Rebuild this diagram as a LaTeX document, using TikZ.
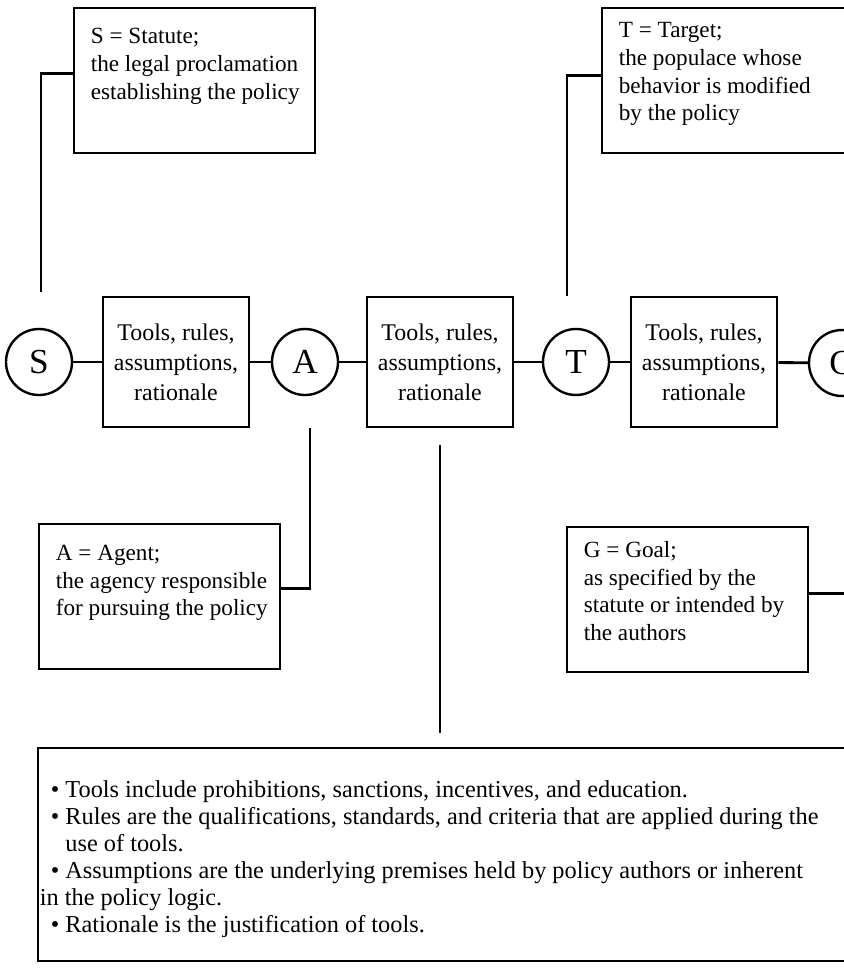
\documentclass[tikz,border=0pt]{standalone}
\usepackage{fontspec}
\setmainfont{Liberation Serif}
\usetikzlibrary{calc}
\newcommand{\notetext}[4]{\parbox[t][#2][t]{#1}{\vspace{#3}\begin{tabular}[t]{@{}l@{}}#4\end{tabular}}}

\begin{document}
\begin{tikzpicture}[x=0.25mm,y=-0.25mm,
  stage/.style={draw,circle,line width=1.7pt,minimum size=16.5mm,inner sep=0pt,font=\fontsize{25}{28}\selectfont},
  tool/.style={draw,line width=2pt,minimum width=36.5mm,minimum height=32.5mm,align=center,font=\fontsize{17}{21.3}\selectfont},
  note/.style={draw,line width=1.2pt,inner xsep=4.25mm,inner ysep=0pt,anchor=north west,font=\fontsize{16.5}{19.6}\selectfont},
  link/.style={line width=2pt}]
\useasboundingbox (0,0) rectangle (844,971);
\clip (0,0) rectangle (844,971);
% the chain
\node[stage] (S) at (39,362) {S};
\node[tool] (b1) at (176,362) {Tools, rules,\\assumptions,\\rationale};
\node[stage] (A) at (305,362) {A};
\node[tool] (b2) at (440,362) {Tools, rules,\\assumptions,\\rationale};
\node[stage] (T) at (576,362) {T};
\node[tool] (b3) at (704,362) {Tools, rules,\\assumptions,\\rationale};
\node[stage] (G) at (842,363) {G};
\draw[link] (S) -- (b1);
\draw[link] (b1) -- (A);
\draw[link] (A) -- (b2);
\draw[link] (b2) -- (T);
\draw[link] (T) -- (b3);
\draw[link] (b3) -- (G);
% notes
\node[note] (sbox) at (73,7) {\notetext{51.75mm}{36.25mm}{4.2mm}{S = Statute;\\the legal proclamation\\establishing the policy}};
\node[note] (tbox) at (601,7) {\notetext{56.75mm}{36.25mm}{2.7mm}{T = Target;\\the populace whose\\behavior is modified\\by the policy}};
\node[note] (abox) at (38,523) {\notetext{51.75mm}{36.25mm}{4.4mm}{A = Agent;\\the agency responsible\\for pursuing the policy}};
\node[note] (gbox) at (566,526) {\notetext{51.75mm}{36.25mm}{2.9mm}{G = Goal;\\as specified by the\\statute or intended by\\the authors}};
\draw[link] ([yshift=1.75mm]sbox.west) -| ([shift={(2,-36)}]S.north);
\draw[link] ([yshift=1.125mm]tbox.west) -| ([shift={(-9,-32)}]T.north);
\draw[link] ([yshift=1.875mm]abox.east) -| ([shift={(5,32)}]A.south);
\draw[link] ([yshift=1.375mm]gbox.east) -| ([shift={(10,32)}]G.south);
% legend
\node[note,inner xsep=0.5mm,font=\fontsize{17.3}{19.2}\selectfont] (legend) at (37,747) {\notetext{206.5mm}{53.25mm}{7.75mm}{%
\hspace{2.75mm}• Tools include prohibitions, sanctions, incentives, and education.\\
\hspace{2.75mm}• Rules are the qualifications, standards, and criteria that are applied during the\\
\hspace{2.75mm}\phantom{• }use of tools.\\
\hspace{2.75mm}• Assumptions are the underlying premises held by policy authors or inherent\\
in the policy logic.\\
\hspace{2.75mm}• Rationale is the justification of tools.}};
\draw[link] ([yshift=-4.25mm]b2.south) -- ($(b2.south |- legend.north)+(0,-14)$);
\end{tikzpicture}
\end{document}
